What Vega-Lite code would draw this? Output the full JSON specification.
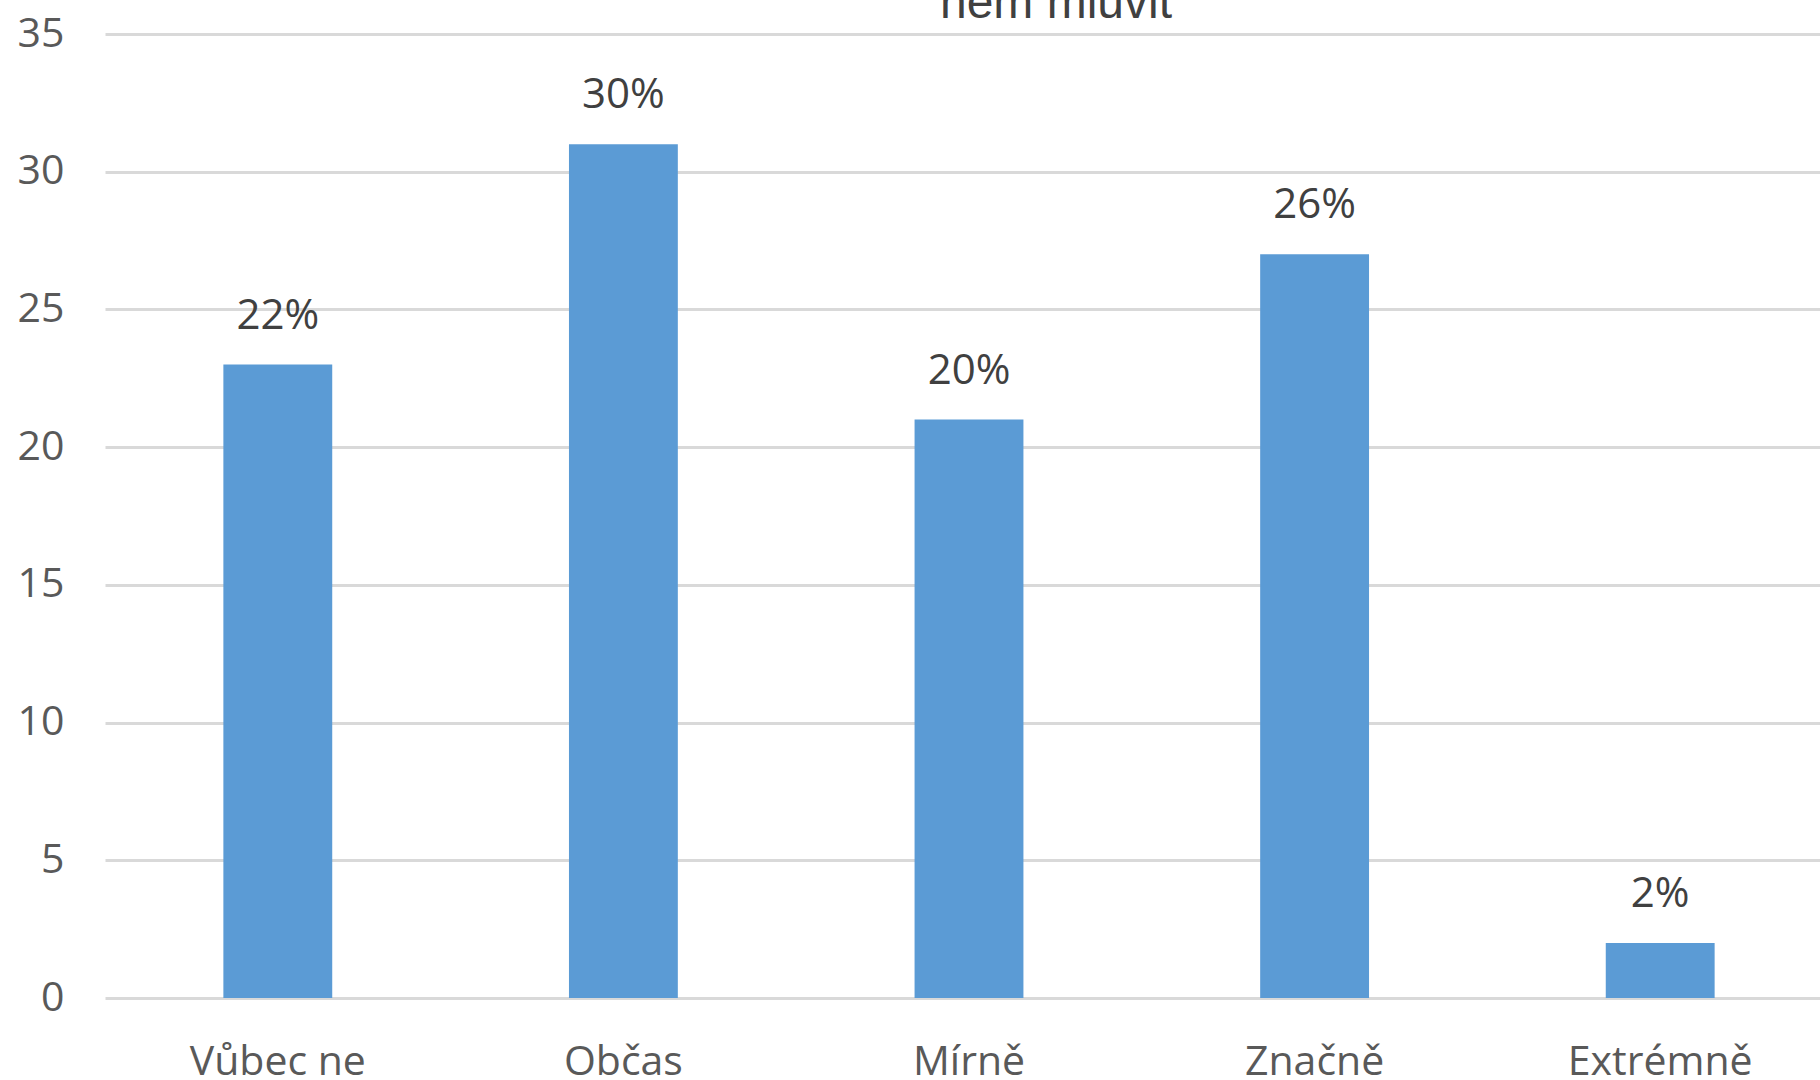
{
  "$schema": "https://vega.github.io/schema/vega-lite/v6.json",
  "width": 1728,
  "height": 964,
  "autosize": {"type": "none"},
  "padding": {"left": 105, "top": 34, "right": 0, "bottom": 82},
  "background": "white",
  "title": {
    "text": "něm mluvit",
    "font": "Liberation Sans",
    "fontSize": 48,
    "fontWeight": "normal",
    "color": "#404040",
    "anchor": "middle",
    "baseline": "alphabetic",
    "offset": -53,
    "dx": 87
  },
  "data": {
    "values": [
      {"odpoved": "Vůbec ne", "hodnota": 23, "popisek": "22%"},
      {"odpoved": "Občas", "hodnota": 31, "popisek": "30%"},
      {"odpoved": "Mírně", "hodnota": 21, "popisek": "20%"},
      {"odpoved": "Značně", "hodnota": 27, "popisek": "26%"},
      {"odpoved": "Extrémně", "hodnota": 2, "popisek": "2%"}
    ]
  },
  "encoding": {
    "x": {
      "field": "odpoved",
      "type": "nominal",
      "sort": null,
      "scale": {"paddingInner": 0.685, "paddingOuter": 0.3425},
      "axis": {
        "title": null,
        "labelAngle": 0,
        "domain": false,
        "ticks": false,
        "labelFont": "Open Sans",
        "labelFontSize": 41,
        "labelColor": "#595959",
        "labelPadding": 44,
        "labelLimit": 0
      }
    },
    "y": {
      "field": "hodnota",
      "type": "quantitative",
      "scale": {"domain": [0, 35]},
      "axis": {
        "title": null,
        "values": [0, 5, 10, 15, 20, 25, 30, 35],
        "domain": false,
        "ticks": false,
        "grid": true,
        "gridColor": "#d9d9d9",
        "gridWidth": 3,
        "labelFont": "Open Sans",
        "labelFontSize": 41,
        "labelColor": "#595959",
        "labelPadding": 41
      }
    }
  },
  "layer": [
    {"mark": {"type": "bar", "color": "#5b9bd5"}},
    {
      "mark": {
        "type": "text",
        "font": "Open Sans",
        "fontSize": 42,
        "color": "#404040",
        "baseline": "alphabetic",
        "dy": -36
      },
      "encoding": {"text": {"field": "popisek"}}
    }
  ],
  "config": {"view": {"stroke": null}}
}
